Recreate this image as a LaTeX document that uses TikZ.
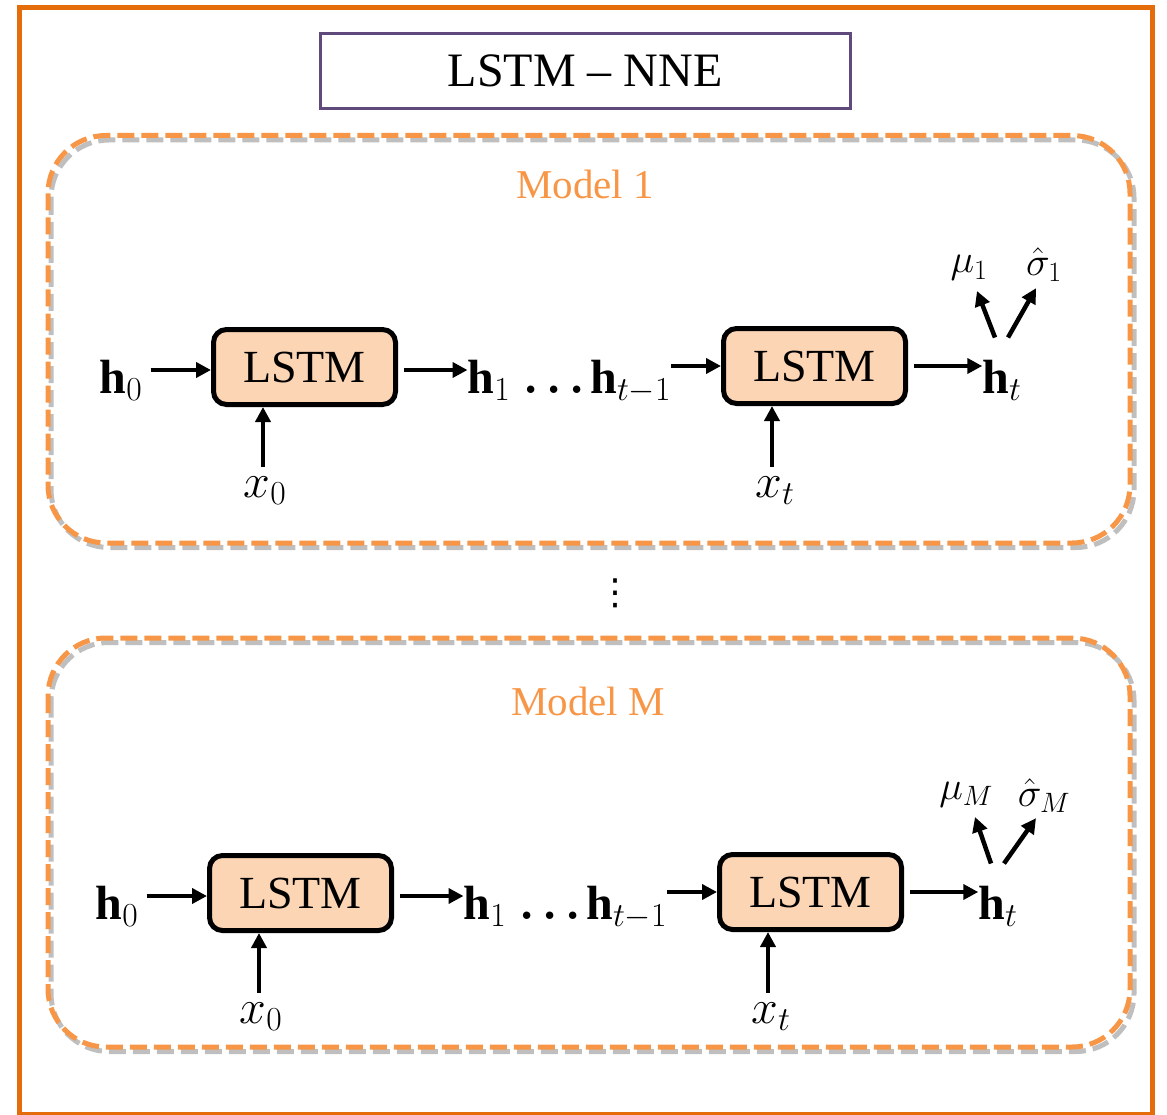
\RequirePackage{fix-cm}
\documentclass[tikz,border=0pt]{standalone}
\usepackage{fontspec}
\usepackage{bm}
\setmainfont{Liberation Serif}
\newfontfamily\symfont{DejaVu Sans}
\usetikzlibrary{arrows.meta,calc}

\definecolor{frameorange}{HTML}{E46C0A}
\definecolor{modelorange}{HTML}{F79646}
\definecolor{titlepurple}{HTML}{604A7B}
\definecolor{cellfill}{HTML}{FCD5B5}

% bold, tightly set ellipsis in front of a symbol
\newcommand{\bolddots}{\bm{.}\mkern3mu\bm{.}\mkern3mu\bm{.}\mkern2mu}

\tikzset{
  framebox/.style={draw=frameorange, line width=5pt},
  titlebox/.style={draw=titlepurple, line width=3pt, minimum width=530pt, minimum height=75pt,
    inner sep=0pt, font=\fontsize{48}{52}\selectfont},
  modelbox/.style={draw=modelorange, line width=5pt, dash pattern=on 17pt off 7pt, rounded corners=58pt},
  modelshadow/.style={draw=black!25, line width=5pt, dash pattern=on 17pt off 7pt, rounded corners=58pt},
  modellabel/.style={text=modelorange, font=\fontsize{41}{45}\selectfont, inner sep=0pt},
  lstmcell/.style={draw=black, fill=cellfill, line width=5pt, rounded corners=13pt,
    minimum width=182pt, minimum height=75pt, inner sep=0pt, font=\fontsize{46}{50}\selectfont},
  hlabel/.style={inner sep=0pt, anchor=base, font=\fontsize{48}{52}\selectfont},
  outlabel/.style={inner sep=0pt, anchor=base, font=\fontsize{40}{44}\selectfont},
  link/.style={line width=4.5pt, -{Triangle[length=15pt,width=15pt]}},
}

\begin{document}
\begin{tikzpicture}[x=1pt,y=-1pt]
  \useasboundingbox (0,0) rectangle (1167,1115);

  % outer frame and title
  \draw[framebox] (19.5,7.5) rectangle (1152,1114);
  \node[titlebox] (title) at (585,71) {LSTM -- NNE};

  % the two dashed model panels with their soft shadows
  \draw[modelshadow] (51,140) rectangle (1134,547.5);
  \draw[modelbox] (48,135.5) rectangle (1130,543);
  \draw[modelshadow] (51,642.5) rectangle (1134,1051.5);
  \draw[modelbox] (48,638) rectangle (1130,1047);

  \node[modellabel] (m1) at (585,184) {Model 1};
  \node[modellabel] (mM) at (588,701) {Model M};

  \node[inner sep=0pt, font=\symfont\fontsize{36}{40}\selectfont] (vd) at (615,593) {⋮};

  % ---------- Model 1 ----------
  \node[lstmcell] (a1) at (304.5,367) {LSTM};
  \node[lstmcell] (b1) at (814.5,366) {LSTM};

  \node[hlabel] (h01) at (121,393) {$\mathbf{h}_0$};
  \node[hlabel] (h11) at (489,393) {$\mathbf{h}_1$};
  \node[hlabel] (hp1) at (597,393) {$\bolddots\mathbf{h}_{t-1}$};
  \node[hlabel] (ht1) at (1002,393) {$\mathbf{h}_t$};
  \node[hlabel] (x01) at (265,497) {$x_0$};
  \node[hlabel] (xt1) at (775,497) {$x_t$};
  \node[outlabel] (mu1) at (969,273) {$\mu_1$};
  \node[outlabel] (sg1) at (1044,276) {$\hat{\sigma}_1$};

  \coordinate (x01top) at ($(x01.north)+(-2,-9)$);
  \coordinate (xt1top) at ($(xt1.north)+(-3,-9)$);

  \draw[link] (h01.east |- 0,370) ++(8,0) -- (a1.west |- 0,370);
  \draw[link] (a1.east |- 0,370) ++(6,0) -- (h11.west |- 0,370);
  \draw[link] (hp1.east |- 0,366) -- (b1.west |- 0,366);
  \draw[link] (b1.east |- 0,366) ++(6,0) -- (ht1.west |- 0,366);
  \draw[link] (x01top) -- (x01top |- a1.south);
  \draw[link] (xt1top) -- (xt1top |- b1.south);
  \draw[link] ($(ht1.north)+(-7,-22)$) -- ($(mu1.south)+(8,10)$);
  \draw[link] ($(ht1.north)+(6,-22)$) -- ($(sg1.south)+(-8,6)$);

  % ---------- Model M ----------
  \node[lstmcell] (aM) at (300.5,893) {LSTM};
  \node[lstmcell] (bM) at (810.5,892) {LSTM};

  \node[hlabel] (h0M) at (117,919) {$\mathbf{h}_0$};
  \node[hlabel] (h1M) at (485,919) {$\mathbf{h}_1$};
  \node[hlabel] (hpM) at (593,919) {$\bolddots\mathbf{h}_{t-1}$};
  \node[hlabel] (htM) at (998,919) {$\mathbf{h}_t$};
  \node[hlabel] (x0M) at (261,1023) {$x_0$};
  \node[hlabel] (xtM) at (771,1023) {$x_t$};
  \node[outlabel] (muM) at (966,799) {$\mu_M$};
  \node[outlabel] (sgM) at (1044,806) {$\hat{\sigma}_M$};

  \coordinate (x0Mtop) at ($(x0M.north)+(-2,-9)$);
  \coordinate (xtMtop) at ($(xtM.north)+(-3,-9)$);

  \draw[link] (h0M.east |- 0,896) ++(8,0) -- (aM.west |- 0,896);
  \draw[link] (aM.east |- 0,896) ++(6,0) -- (h1M.west |- 0,896);
  \draw[link] (hpM.east |- 0,892) -- (bM.west |- 0,892);
  \draw[link] (bM.east |- 0,892) ++(6,0) -- (htM.west |- 0,892);
  \draw[link] (x0Mtop) -- (x0Mtop |- aM.south);
  \draw[link] (xtMtop) -- (xtMtop |- bM.south);
  \draw[link] ($(htM.north)+(-7,-22)$) -- ($(muM.south)+(9,10)$);
  \draw[link] ($(htM.north)+(6,-22)$) -- ($(sgM.south)+(-8,6)$);
\end{tikzpicture}
\end{document}
